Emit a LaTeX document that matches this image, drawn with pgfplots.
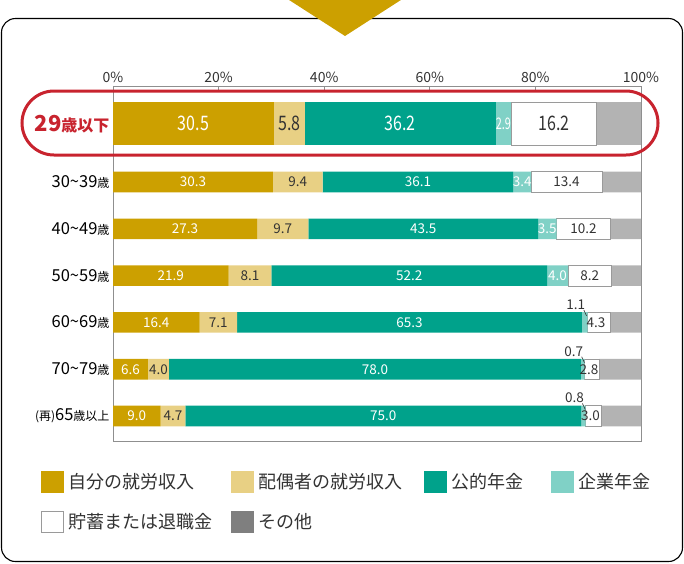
\documentclass[border=0pt]{standalone}
\usepackage{pgfplots}
\pgfplotsset{compat=1.18}
\usepackage{pgfplotstable}
\usepackage{fontspec}
\setmainfont{Noto Sans CJK JP}
\newfontfamily\condensed[FakeStretch=0.8]{Noto Sans CJK JP}
\newfontfamily\tight[FakeStretch=0.68]{Noto Sans CJK JP}

\definecolor{cSelf}{HTML}{CCA000}
\definecolor{cSpouse}{HTML}{E8D084}
\definecolor{cPublic}{HTML}{00A28B}
\definecolor{cCorp}{HTML}{80D1C6}
\definecolor{cOther}{HTML}{B3B3B3}
\definecolor{cOtherKey}{HTML}{7F7F7F}
\definecolor{cBorder}{HTML}{9A9A9A}
\definecolor{cText}{HTML}{333333}
\definecolor{cRed}{HTML}{C8232E}
\definecolor{cAxis}{HTML}{8F8F8F}

% income composition by age group (%), y = row position
\pgfplotstableread{
y a b c d e f
-123.7 30.5 5.8 36.2 2.9 16.2 8.4
}\young
\pgfplotstableread{
y a b c d e f
-182.0 30.3 9.4 36.1 3.4 13.4 7.4
-228.8 27.3 9.7 43.5 3.5 10.2 5.8
-275.6 21.9 8.1 52.2 4.0 8.2 5.6
-322.4 16.4 7.1 65.3 1.1 4.3 5.8
-369.2 6.6 4.0 78.0 0.7 2.8 7.9
-416.0 9.0 4.7 75.0 0.8 3.0 7.5
}\older

\pgfdeclareplotmark{leader}{%
  \pgfpathmoveto{\pgfpoint{-1pt}{12.5pt}}%
  \pgfpathlineto{\pgfpoint{1.8pt}{6.5pt}}%
  \pgfusepathqstroke}

\pgfplotsset{
  panel/.style={scale only axis, width=528pt, height=355pt,
    xmin=0, xmax=100, ymin=-441, ymax=-86,
    at={(113pt,-86pt)}, anchor=north west},
  lbl/.style 2 args={only marks, mark=none, point meta=explicit symbolic,
    nodes near coords,
    every node near coord/.style={anchor=center, inner sep=0pt, text=#1, font=#2}},
  /pgf/number format/assume math mode=true,
}

\newcommand\age[2]{{\fontsize{16.5}{18}\selectfont #1}{\fontsize{12}{14}\selectfont #2}}
\newcommand\smallfont{\fontsize{13.5}{15}\selectfont}
\newcommand\bigfont{\condensed\fontsize{20}{22}\selectfont}

\begin{document}
\begin{tikzpicture}[x=1pt,y=1pt]
\useasboundingbox (0,0) rectangle (684,-563);
\draw[black, line width=1.1pt, rounded corners=14pt] (1.5,-18.5) rectangle (682.5,-561.5);
\fill[cSelf] (286,2) -- (404,2) -- (345,-36) -- cycle;

% frame, ticks, row labels and the highlighted youngest group
\begin{axis}[panel, xbar stacked, bar width=42.7pt,
  axis line style={cAxis, line width=0.8pt},
  xtick={0,20,40,60,80,100},
  xticklabels={0\%,20\%,40\%,60\%,80\%,100\%},
  xtick pos=right, xticklabel pos=right,
  tick align=inside, major tick length=4pt,
  xtick style={cAxis, line width=0.8pt},
  xticklabel style={font=\fontsize{14}{16}\selectfont, text=cText},
  ytick={-123.7,-182,-228.8,-275.6,-322.4,-369.2,-416},
  yticklabels={
    {{\color{cRed}\bfseries\fontsize{22}{24}\selectfont 29}{\color{cRed}\bfseries\fontsize{16}{18}\selectfont 歳以下}},
    {\age{30\textasciitilde 39}{歳}},
    {\age{40\textasciitilde 49}{歳}},
    {\age{50\textasciitilde 59}{歳}},
    {\age{60\textasciitilde 69}{歳}},
    {\age{70\textasciitilde 79}{歳}},
    {{\fontsize{12}{14}\selectfont (再)}\age{65}{歳以上}}},
  ytick style={draw=none},
  yticklabel style={anchor=east, text=black},
]
\addplot[fill=cSelf, draw=none] table[x=a, y=y]{\young};
\addplot[fill=cSpouse, draw=none] table[x=b, y=y]{\young};
\addplot[fill=cPublic, draw=none] table[x=c, y=y]{\young};
\addplot[fill=cCorp, draw=none] table[x=d, y=y]{\young};
\addplot[fill=white, draw=cBorder, line width=0.8pt] table[x=e, y=y]{\young};
\addplot[fill=cOther, draw=none] table[x=f, y=y]{\young};
\end{axis}

% remaining age groups
\begin{axis}[panel, hide axis, xbar stacked, bar width=20.6pt]
\addplot[fill=cSelf, draw=none] table[x=a, y=y]{\older};
\addplot[fill=cSpouse, draw=none] table[x=b, y=y]{\older};
\addplot[fill=cPublic, draw=none] table[x=c, y=y]{\older};
\addplot[fill=cCorp, draw=none] table[x=d, y=y]{\older};
\addplot[fill=white, draw=cBorder, line width=0.8pt] table[x=e, y=y]{\older};
\addplot[fill=cOther, draw=none] table[x=f, y=y]{\older};
\end{axis}

% value labels at segment centres
\begin{axis}[panel, hide axis, clip=false]
\addplot[lbl={white}{\bigfont}] table[x expr={\thisrow{a}/2}, y=y, meta=a]{\young};
\addplot[lbl={cText}{\bigfont}] table[x expr={\thisrow{a}+\thisrow{b}/2}, y=y, meta=b]{\young};
\addplot[lbl={white}{\bigfont}] table[x expr={\thisrow{a}+\thisrow{b}+\thisrow{c}/2}, y=y, meta=c]{\young};
\addplot[lbl={white}{\tight\fontsize{16}{18}\selectfont}] table[x expr={\thisrow{a}+\thisrow{b}+\thisrow{c}+\thisrow{d}/2}, y=y, meta=d]{\young};
\addplot[lbl={cText}{\bigfont}] table[x expr={\thisrow{a}+\thisrow{b}+\thisrow{c}+\thisrow{d}+\thisrow{e}/2}, y=y, meta=e]{\young};

\addplot[lbl={white}{\smallfont}] table[x expr={\thisrow{a}/2}, y=y, meta=a]{\older};
\addplot[lbl={cText}{\smallfont}] table[x expr={\thisrow{a}+\thisrow{b}/2}, y=y, meta=b]{\older};
\addplot[lbl={white}{\smallfont}] table[x expr={\thisrow{a}+\thisrow{b}+\thisrow{c}/2}, y=y, meta=c]{\older};
\addplot[lbl={white}{\smallfont}, y filter/.expression={y<-300 ? nan : y}]
  table[x expr={\thisrow{a}+\thisrow{b}+\thisrow{c}+\thisrow{d}/2}, y=y, meta=d]{\older};
\addplot[lbl={cText}{\smallfont}, mark=leader, mark options={draw=cText, line width=0.6pt},
  every node near coord/.append style={xshift=-9pt, yshift=18pt},
  y filter/.expression={y>-300 ? nan : y}]
  table[x expr={\thisrow{a}+\thisrow{b}+\thisrow{c}+\thisrow{d}/2}, y=y, meta=d]{\older};
\addplot[lbl={cText}{\smallfont}, y filter/.expression={y<-300 ? nan : y}]
  table[x expr={\thisrow{a}+\thisrow{b}+\thisrow{c}+\thisrow{d}+\thisrow{e}/2}, y=y, meta=e]{\older};
\addplot[lbl={cText}{\smallfont}, every node near coord/.append style={xshift=-3pt},
  y filter/.expression={y>-300 ? nan : y}]
  table[x expr={\thisrow{a}+\thisrow{b}+\thisrow{c}+\thisrow{d}+\thisrow{e}/2}, y=y, meta=e]{\older};
\end{axis}

% highlight around the youngest group
\draw[cRed, line width=3pt, rounded corners=32pt] (22,-91) rectangle (658,-155);

% key
\begin{scope}[every node/.style={anchor=west, inner sep=0pt, text=cText,
    font=\fontsize{18}{20}\selectfont}]
  \fill[cSelf] (41,-471) rectangle (64,-493);
  \node at (68.5,-482) {自分の就労収入};
  \fill[cSpouse] (231,-471) rectangle (254,-493);
  \node at (258.5,-482) {配偶者の就労収入};
  \fill[cPublic] (424,-471) rectangle (447,-493);
  \node at (451.5,-482) {公的年金};
  \fill[cCorp] (551,-471) rectangle (574,-493);
  \node at (578.5,-482) {企業年金};
  \draw[cBorder, fill=white, line width=0.8pt] (41.4,-511.4) rectangle (63.6,-532.6);
  \node at (68.5,-522) {貯蓄または退職金};
  \fill[cOtherKey] (231,-511) rectangle (254,-533);
  \node at (258.5,-522) {その他};
\end{scope}
\end{tikzpicture}
\end{document}
